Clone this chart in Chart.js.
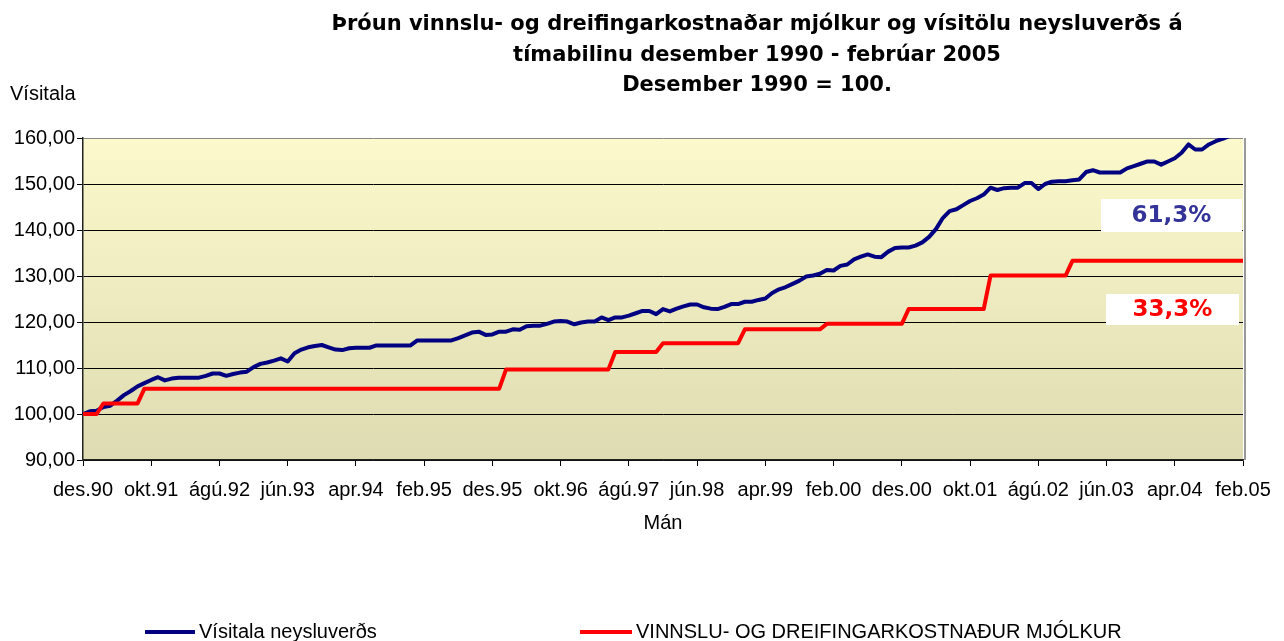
<!DOCTYPE html>
<html lang="is">
<head>
<meta charset="utf-8">
<title>Vísitala neysluverðs og vinnslu- og dreifingarkostnaður mjólkur</title>
<script src="https://cdn.jsdelivr.net/npm/chart.js@4.4.1/dist/chart.umd.min.js"></script>
<style>
    html, body { margin: 0; padding: 0; background: #fff; }
    #wrap { width: 1284px; height: 641px; }
</style>
</head>
<body>
<div id="wrap"><canvas id="lineChart" width="1284" height="641"></canvas></div>
<script>
/* =========================
   DATA
========================= */
const monthNames = ["jan", "feb", "mar", "apr", "maí", "jún", "júl", "ágú", "sep", "okt", "nóv", "des"];
const firstMonth = 11;      // desember
const firstYear = 1990;
const monthCount = 171;     // des.90 - feb.05
const labelEvery = 10;

// Vísitala neysluverðs, des.1990 = 100
const cpiValues = [
    100.0, 100.6, 100.7, 101.5, 101.8, 102.9, 104.1, 105.0, 106.0, 106.7,
    107.4, 108.0, 107.3, 107.7, 107.9, 107.9, 107.9, 107.9, 108.3, 108.8,
    108.8, 108.3, 108.7, 109.0, 109.2, 110.2, 110.9, 111.2, 111.6, 112.1,
    111.4, 113.2, 114.0, 114.5, 114.8, 115.0, 114.5, 114.0, 113.9, 114.3,
    114.4, 114.4, 114.4, 114.9, 114.9, 114.9, 114.9, 114.9, 114.9, 116.0,
    116.0, 116.0, 116.0, 116.0, 116.0, 116.5, 117.1, 117.7, 117.9, 117.2,
    117.3, 117.9, 117.9, 118.4, 118.3, 119.1, 119.2, 119.2, 119.6, 120.1,
    120.2, 120.1, 119.5, 119.9, 120.1, 120.1, 121.0, 120.4, 121.0, 121.0,
    121.4, 121.9, 122.4, 122.4, 121.7, 122.8, 122.3, 122.9, 123.4, 123.8,
    123.8, 123.2, 122.9, 122.8, 123.3, 123.9, 123.9, 124.4, 124.4, 124.8,
    125.1, 126.3, 127.1, 127.6, 128.3, 129.0, 129.9, 130.1, 130.5, 131.3,
    131.2, 132.2, 132.5, 133.6, 134.2, 134.7, 134.2, 134.1, 135.3, 136.1,
    136.2, 136.2, 136.6, 137.3, 138.5, 140.2, 142.6, 144.1, 144.5, 145.4,
    146.3, 146.9, 147.7, 149.2, 148.7, 149.1, 149.2, 149.2, 150.2, 150.2,
    148.9, 150.0, 150.5, 150.6, 150.6, 150.8, 151.0, 152.6, 153.0, 152.5,
    152.5, 152.5, 152.5, 153.4, 153.9, 154.4, 154.9, 154.9, 154.2, 154.9,
    155.6, 156.8, 158.6, 157.5, 157.5, 158.6, 159.3, 159.8, 160.4, 160.9,
    161.3
];

// Vinnslu- og dreifingarkostnaður mjólkur, des.1990 = 100
const milkCostValues = [
    100.0, 100.0, 100.0, 102.3, 102.3, 102.3, 102.3, 102.3, 102.3, 105.5,
    105.5, 105.5, 105.5, 105.5, 105.5, 105.5, 105.5, 105.5, 105.5, 105.5,
    105.5, 105.5, 105.5, 105.5, 105.5, 105.5, 105.5, 105.5, 105.5, 105.5,
    105.5, 105.5, 105.5, 105.5, 105.5, 105.5, 105.5, 105.5, 105.5, 105.5,
    105.5, 105.5, 105.5, 105.5, 105.5, 105.5, 105.5, 105.5, 105.5, 105.5,
    105.5, 105.5, 105.5, 105.5, 105.5, 105.5, 105.5, 105.5, 105.5, 105.5,
    105.5, 105.5, 109.7, 109.7, 109.7, 109.7, 109.7, 109.7, 109.7, 109.7,
    109.7, 109.7, 109.7, 109.7, 109.7, 109.7, 109.7, 109.7, 113.5, 113.5,
    113.5, 113.5, 113.5, 113.5, 113.5, 115.4, 115.4, 115.4, 115.4, 115.4,
    115.4, 115.4, 115.4, 115.4, 115.4, 115.4, 115.4, 118.4, 118.4, 118.4,
    118.4, 118.4, 118.4, 118.4, 118.4, 118.4, 118.4, 118.4, 118.4, 119.6,
    119.6, 119.6, 119.6, 119.6, 119.6, 119.6, 119.6, 119.6, 119.6, 119.6,
    119.6, 122.8, 122.8, 122.8, 122.8, 122.8, 122.8, 122.8, 122.8, 122.8,
    122.8, 122.8, 122.8, 130.1, 130.1, 130.1, 130.1, 130.1, 130.1, 130.1,
    130.1, 130.1, 130.1, 130.1, 130.1, 133.3, 133.3, 133.3, 133.3, 133.3,
    133.3, 133.3, 133.3, 133.3, 133.3, 133.3, 133.3, 133.3, 133.3, 133.3,
    133.3, 133.3, 133.3, 133.3, 133.3, 133.3, 133.3, 133.3, 133.3, 133.3,
    133.3
];

const seriesNames = ["Vísitala neysluverðs", "VINNSLU- OG DREIFINGARKOSTNAÐUR MJÓLKUR"];
const changeLabels = ["61,3%", "33,3%"];

const titleLines = [
    "Þróun vinnslu- og dreifingarkostnaðar mjólkur og vísitölu neysluverðs á",
    "tímabilinu desember 1990 - febrúar 2005",
    "Desember 1990 = 100."
];
const yTitle = "Vísitala";
const xTitle = "Mán";
const yMin = 90;
const yMax = 160;
const yStep = 10;

/* =========================
   LABELS
========================= */
function buildCategories() {
    const labels = [];
    for (let i = 0; i < monthCount; i++) {
        const m = (firstMonth + i) % 12;
        const y = firstYear + Math.floor((firstMonth + i) / 12);
        labels.push(monthNames[m] + "." + String(y % 100).padStart(2, "0"));
    }
    return labels;
}

const categories = buildCategories();

/* =========================
   STYLE
========================= */
const BLUE = "#000080";
const RED = "#FF0000";
const FONT = "'Liberation Sans', Arial, sans-serif";
const BOLD_FONT = "'DejaVu Sans', Verdana, sans-serif";

/* =========================
   DRAWING PLUGIN
========================= */
const decorations = {
    id: "decorations",

    beforeDraw(chart) {
        const { ctx, chartArea: a } = chart;
        const g = ctx.createLinearGradient(0, a.top, 0, a.bottom);
        g.addColorStop(0, "#FCFACC");
        g.addColorStop(1, "#DEDBB2");
        ctx.save();
        ctx.fillStyle = g;
        ctx.fillRect(a.left, a.top, a.right - a.left, a.bottom - a.top);
        ctx.restore();
    },

    beforeDatasetsDraw(chart) {
        const { ctx, chartArea: a } = chart;
        ctx.save();
        ctx.strokeStyle = "#999";
        ctx.lineWidth = 2;
        ctx.beginPath();
        ctx.moveTo(a.right + 2, a.top);
        ctx.lineTo(a.right + 2, a.bottom);
        ctx.stroke();
        ctx.restore();
    },

    afterDatasetsDraw(chart) {
        const { ctx, chartArea: a } = chart;
        const boxes = [
            { text: changeLabels[0], color: "#333399", x: a.right - 142, y: 199, w: 141, h: 33 },
            { text: changeLabels[1], color: RED, x: a.right - 137, y: 294, w: 133, h: 31 }
        ];
        ctx.save();
        boxes.forEach(b => {
            ctx.fillStyle = "#fff";
            ctx.fillRect(b.x, b.y, b.w, b.h);
            ctx.fillStyle = b.color;
            ctx.font = "bold 23px " + BOLD_FONT;
            ctx.textAlign = "center";
            ctx.textBaseline = "middle";
            ctx.fillText(b.text, b.x + b.w / 2, b.y + b.h / 2 + 1);
        });
        ctx.restore();
    },

    afterDraw(chart) {
        const { ctx } = chart;
        ctx.save();

        // title
        ctx.fillStyle = "#000";
        ctx.font = "bold 21px " + BOLD_FONT;
        ctx.textAlign = "center";
        ctx.textBaseline = "middle";
        titleLines.forEach((line, i) => {
            ctx.fillText(line, 757, 25 + i * 30.5);
        });

        // y axis title
        ctx.font = "20px " + FONT;
        ctx.textAlign = "left";
        ctx.fillText(yTitle, 10, 94);

        // legend
        const items = [
            { x: 145, len: 50, color: BLUE, text: seriesNames[0] },
            { x: 580, len: 52, color: RED, text: seriesNames[1] }
        ];
        items.forEach(it => {
            ctx.strokeStyle = it.color;
            ctx.lineWidth = 4;
            ctx.beginPath();
            ctx.moveTo(it.x, 632);
            ctx.lineTo(it.x + it.len, 632);
            ctx.stroke();
            ctx.fillStyle = "#000";
            ctx.fillText(it.text, it.x + it.len + 4, 632);
        });

        ctx.restore();
    }
};

/* =========================
   CHART
========================= */
function initChart() {
    const canvas = document.getElementById("lineChart");

    new Chart(canvas, {
        type: "line",
        data: {
            labels: categories,
            datasets: [
                {
                    label: seriesNames[0],
                    data: cpiValues,
                    borderColor: BLUE,
                    backgroundColor: BLUE,
                    order: 1
                },
                {
                    label: seriesNames[1],
                    data: milkCostValues,
                    borderColor: RED,
                    backgroundColor: RED,
                    order: 0
                }
            ]
        },
        options: {
            responsive: false,
            animation: false,
            layout: { padding: { top: 138, right: 41, bottom: 106, left: 0 } },
            elements: {
                point: { radius: 0, hoverRadius: 0 },
                line: { tension: 0, borderWidth: 4, borderJoinStyle: "round", borderCapStyle: "butt", fill: false }
            },
            plugins: {
                legend: { display: false },
                tooltip: { enabled: false }
            },
            scales: {
                x: {
                    type: "category",
                    offset: false,
                    grid: {
                        drawOnChartArea: false,
                        tickLength: 6,
                        lineWidth: 1,
                        color: (c) => (c.index % labelEvery === 0 ? "#000" : "rgba(0,0,0,0)")
                    },
                    border: { color: "#222", width: 1.5 },
                    ticks: {
                        autoSkip: false,
                        maxRotation: 0,
                        minRotation: 0,
                        padding: 12,
                        color: "#000",
                        font: { family: FONT, size: 20 },
                        callback: (v, i) => (i % labelEvery === 0 ? categories[i] : "")
                    },
                    title: {
                        display: true,
                        text: xTitle,
                        color: "#000",
                        padding: 0,
                        font: { family: FONT, size: 20 }
                    },
                    afterFit: (axis) => { axis.height = 75; }
                },
                y: {
                    min: yMin,
                    max: yMax,
                    grid: {
                        tickLength: 6,
                        lineWidth: 1,
                        tickColor: "#000",
                        color: (c) => (c.tick && c.tick.value === yMax ? "#888" : "#000")
                    },
                    border: { color: "#222", width: 1.5 },
                    ticks: {
                        stepSize: yStep,
                        padding: 2,
                        color: "#000",
                        font: { family: FONT, size: 20 },
                        callback: (v) => v.toFixed(2).replace(".", ",")
                    },
                    afterFit: (axis) => { axis.width = 83; }
                }
            }
        },
        plugins: [decorations]
    });
}

document.addEventListener("DOMContentLoaded", () => {
    initChart();
});
</script>
</body>
</html>
